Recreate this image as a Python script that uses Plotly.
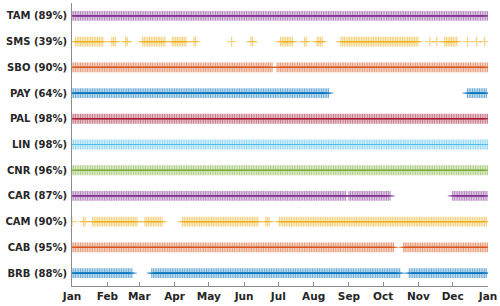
import pandas as pd
import plotly.graph_objects as go

# Stations from bottom to top
stations = ["BRB", "CAB", "CAM", "CAR", "CNR", "LIN", "PAL", "PAY", "SBO", "SMS", "TAM"]
percent = [88, 95, 90, 87, 96, 98, 98, 64, 90, 39, 89]
colors = ["#0072BD", "#D95319", "#EDB120", "#7E2F8E", "#77AC30", "#4DBEEE",
          "#A2142F", "#0072BD", "#D95319", "#EDB120", "#7E2F8E"]

# Data-availability periods (start, end)
BRB = [("2019-01-01", "2019-02-23"), ("2019-03-12", "2019-10-15"), ("2019-10-24", "2019-12-31")]
CAB = [("2019-01-01", "2019-10-10"), ("2019-10-19", "2019-12-31")]
CAM = [("2019-01-01", "2019-01-01"), ("2019-01-11", "2019-01-12"), ("2019-01-19", "2019-02-27"),
       ("2019-03-06", "2019-03-21"), ("2019-04-08", "2019-06-13"), ("2019-06-20", "2019-06-23"),
       ("2019-07-02", "2019-12-31")]
CAR = [("2019-01-01", "2019-08-29"), ("2019-09-01", "2019-10-07"), ("2019-12-01", "2019-12-31")]
CNR = [("2019-01-01", "2019-12-31")]
LIN = [("2019-01-01", "2019-12-31")]
PAL = [("2019-01-01", "2019-12-31")]
PAY = [("2019-01-01", "2019-08-14"), ("2019-12-14", "2019-12-31")]
SBO = [("2019-01-01", "2019-06-25"), ("2019-06-30", "2019-12-31")]
SMS = [("2019-01-04", "2019-01-28"), ("2019-02-05", "2019-02-08"), ("2019-02-17", "2019-02-19"),
       ("2019-03-04", "2019-03-23"), ("2019-03-30", "2019-04-11"), ("2019-04-18", "2019-04-19"),
       ("2019-05-21", "2019-05-21"), ("2019-06-07", "2019-06-08"), ("2019-07-03", "2019-07-13"),
       ("2019-07-24", "2019-07-26"), ("2019-08-04", "2019-08-09"), ("2019-08-25", "2019-10-31"),
       ("2019-11-11", "2019-11-11"), ("2019-11-17", "2019-11-17"), ("2019-11-24", "2019-12-05"),
       ("2019-12-14", "2019-12-14"), ("2019-12-22", "2019-12-22"), ("2019-12-29", "2019-12-29")]
TAM = [("2019-01-01", "2019-12-31")]

periods = [BRB, CAB, CAM, CAR, CNR, LIN, PAL, PAY, SBO, SMS, TAM]

fig = go.Figure()
for i, (name, per, col) in enumerate(zip(stations, periods, colors)):
    xs = []
    for s, e in per:
        rng = list(pd.date_range(s, pd.Timestamp(e) + pd.Timedelta(hours=23), freq="36h"))
        xs.extend(rng)
    fig.add_trace(go.Scatter(
        x=xs, y=[i + 1] * len(xs), mode="markers", name=name,
        marker=dict(symbol="cross-thin", size=7, opacity=0.55,
                    line=dict(color=col, width=1.2), color=col),
        showlegend=False, hoverinfo="skip"))

ticktext = [f"{s} ({p}%)" for s, p in zip(stations, percent)]

fig.update_layout(
    width=500, height=306,
    margin=dict(l=72, r=12, t=3, b=20),
    paper_bgcolor="white", plot_bgcolor="white",
    font=dict(family="DejaVu Sans", size=10, color="#262626"),
    xaxis=dict(
        range=["2019-01-01", "2020-01-01"], type="date", automargin=False,
        tickformat="%b", dtick="M1", tick0="2019-01-01",
        showgrid=False, zeroline=False,
        showline=True, linecolor="#8c8c8c", linewidth=1,
        ticks="inside", ticklen=4, tickcolor="#8c8c8c",
        tickfont=dict(family="DejaVu Sans", size=10.5, weight="bold", color="#262626"),
    ),
    yaxis=dict(
        range=[0.5, 11.5], tickvals=list(range(1, 12)), ticktext=ticktext, automargin=False,
        showgrid=False, zeroline=False,
        showline=True, linecolor="#8c8c8c", linewidth=1,
        ticks="", ticklabelstandoff=2,
        tickfont=dict(family="DejaVu Sans", size=10, weight="bold", color="#262626"),
    ),
)

fig.write_html("out.html", config={"displayModeBar": False},
               post_script="document.body.style.margin='0';")
